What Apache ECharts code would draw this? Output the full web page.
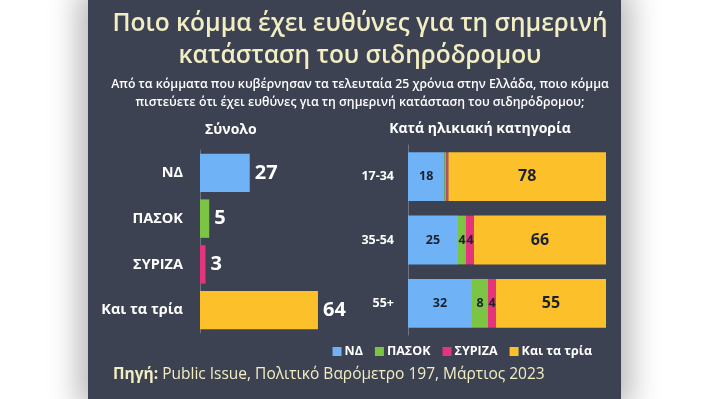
<!DOCTYPE html>
<html>
<head>
<meta charset="utf-8">
<script src="https://cdn.jsdelivr.net/npm/echarts@6/dist/echarts.min.js"></script>
<style>
  html, body { margin: 0; padding: 0; background: #ffffff; }
  #panel {
    position: absolute; left: 88px; top: 0; width: 533px; height: 399px;
    background: #3d4252;
    box-shadow: 0 0 28px 10px rgba(0, 0, 0, 0.28);
  }
  #chart { position: absolute; left: 0; top: 0; width: 710px; height: 399px; }
</style>
</head>
<body>
<div id="panel"></div>
<div id="chart"></div>
<script>
// Σύνολο
const totalCats = ['ΝΔ', 'ΠΑΣΟΚ', 'ΣΥΡΙΖΑ', 'Και τα τρία']
const totalValues = [27, 5, 3, 64]

// Κατά ηλικιακή κατηγορία
const ageGroups = ['17-34', '35-54', '55+']
const ndByAge = [18, 25, 32]
const pasokByAge = [1, 4, 8]
const syrizaByAge = [1, 4, 4]
const allByAge = [78, 66, 55]

const partyNames = ['ΝΔ', 'ΠΑΣΟΚ', 'ΣΥΡΙΖΑ', 'Και τα τρία']
const partyColors = ['#6fb2f6', '#7cc443', '#e4357c', '#fcc02b']

const font = 'Open Sans'
const axisGrey = '#6e7383'

// 100% stacked: each row is scaled to its own total, labels keep raw value
const ageSeries = [ndByAge, pasokByAge, syrizaByAge, allByAge]
const rowTotals = ageGroups.map((_, i) => ageSeries.reduce((s, arr) => s + arr[i], 0))

const chart = echarts.init(document.getElementById('chart'))
chart.setOption({
  backgroundColor: 'transparent',
  textStyle: { fontFamily: font },
  title: [
    {
      text: 'Ποιο κόμμα έχει ευθύνες για τη σημερινή\nκατάσταση του σιδηρόδρομου',
      left: 355, top: 3, textAlign: 'center',
      textStyle: { color: '#f2eec3', fontSize: 24.5, fontWeight: 600, lineHeight: 32, fontFamily: font }
    },
    {
      text: 'Από τα κόμματα που κυβέρνησαν τα τελευταία 25 χρόνια στην Ελλάδα, ποιο κόμμα\nπιστεύετε ότι έχει ευθύνες για τη σημερινή κατάσταση του σιδηρόδρομου;',
      left: 355, top: 70, textAlign: 'center',
      textStyle: { color: '#ffffff', fontSize: 12.3, fontWeight: 600, lineHeight: 18, fontFamily: font }
    },
    {
      text: 'Σύνολο',
      left: 200, top: 118,
      textStyle: { color: '#ffffff', fontSize: 14, fontWeight: 'bold', fontFamily: font }
    },
    {
      text: 'Κατά ηλικιακή κατηγορία',
      left: 475, top: 117, textAlign: 'center',
      textStyle: { color: '#ffffff', fontSize: 14, fontWeight: 'bold', fontFamily: font }
    },
    {
      text: '{b|Πηγή:} Public Issue, Πολιτικό Βαρόμετρο 197, Μάρτιος 2023',
      left: 108, top: 362,
      textStyle: {
        color: '#f2eec3', fontSize: 15.5, fontWeight: 'normal', fontFamily: font,
        rich: { b: { color: '#f2eec3', fontSize: 15.5, fontWeight: 'bold', fontFamily: font } }
      }
    }
  ],
  legend: {
    data: partyNames,
    right: 113, top: 340,
    icon: 'rect', itemWidth: 9, itemHeight: 9, itemGap: 12,
    textStyle: { color: '#ffffff', fontSize: 12.5, fontWeight: 'bold', fontFamily: font, padding: [0, 0, 0, -2] }
  },
  grid: [
    { left: 200, top: 150, width: 129, height: 183 },
    { left: 408, top: 145, width: 198, height: 190 }
  ],
  xAxis: [
    { gridIndex: 0, type: 'value', min: 0, max: 70, show: false },
    { gridIndex: 1, type: 'value', min: 0, max: 100, show: false }
  ],
  yAxis: [
    {
      gridIndex: 0, type: 'category', data: totalCats, inverse: true,
      axisLine: { lineStyle: { color: axisGrey } },
      axisTick: { length: 4, lineStyle: { color: axisGrey } },
      axisLabel: { color: '#ffffff', fontSize: 14.5, fontWeight: 'bold', margin: 17, fontFamily: font }
    },
    {
      gridIndex: 1, type: 'category', data: ageGroups, inverse: true,
      axisLine: { lineStyle: { color: axisGrey } },
      axisTick: { length: 4, lineStyle: { color: axisGrey } },
      axisLabel: { color: '#ffffff', fontSize: 12.5, fontWeight: 'bold', margin: 14, fontFamily: font }
    }
  ],
  series: [
    {
      name: 'Σύνολο',
      type: 'bar',
      xAxisIndex: 0, yAxisIndex: 0,
      barWidth: '84%',
      data: totalValues.map((v, i) => ({ value: v, itemStyle: { color: partyColors[i] } })),
      label: {
        show: true, position: 'right', distance: 5,
        color: '#ffffff', fontSize: 20, fontWeight: 'bold', fontFamily: font
      }
    },
    ...ageSeries.map((arr, k) => ({
      name: partyNames[k],
      type: 'bar',
      stack: 'age',
      xAxisIndex: 1, yAxisIndex: 1,
      barWidth: '77%',
      itemStyle: { color: partyColors[k] },
      data: arr.map((v, i) => ({ value: v / rowTotals[i] * 100, raw: v })),
      label: {
        show: true, position: 'inside',
        color: '#1c2130', fontWeight: 'bold', fontFamily: font,
        fontSize: k === 3 ? 16 : 12.5,
        formatter: p => (p.data.raw >= 2 ? p.data.raw : '')
      }
    }))
  ]
})
</script>
</body>
</html>
